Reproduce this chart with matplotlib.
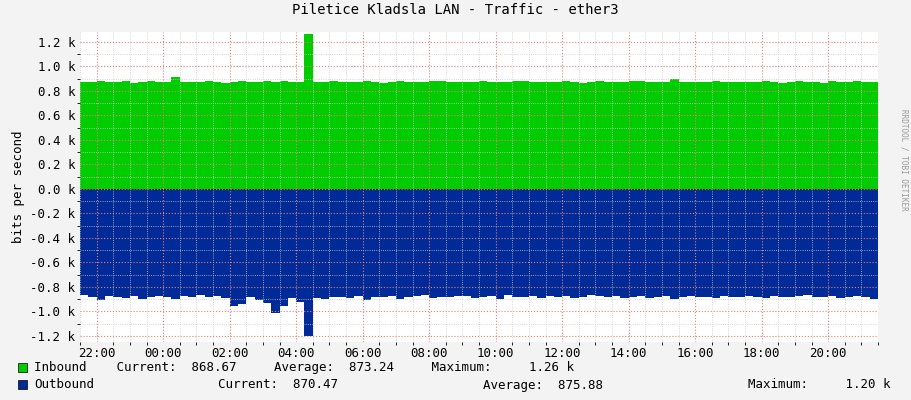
import matplotlib
matplotlib.use("Agg")
import matplotlib.pyplot as plt
import numpy as np
from matplotlib.ticker import MultipleLocator, FuncFormatter

plt.rcParams['font.family'] = ['DejaVu Sans Mono']

# time axis: hours since midnight of first day, 15 min samples
t_start = 21.5
inbound = [875, 870, 880, 868, 872, 878, 866, 874, 880, 871, 876, 910, 872, 868, 875, 879,
           870, 866, 874, 878, 871, 869, 877, 873, 880, 868, 872, 1260, 875, 870, 878, 874,
           869, 876, 880, 872, 867, 875, 879, 871, 874, 868, 877, 880, 872, 870, 876, 873,
           879, 868, 874, 871, 877, 880, 869, 873, 876, 870, 878, 872, 867, 875, 879, 871,
           874, 869, 877, 880, 872, 870, 876, 895, 873, 868, 874, 871, 877, 870, 869, 873,
           876, 870, 878, 872, 867, 875, 879, 871, 874, 866, 877, 872, 868, 880, 870, 868]
outbound = [870, 880, 905, 875, 885, 890, 872, 900, 880, 876, 885, 895, 872, 880, 870, 882,
            876, 890, 960, 940, 880, 905, 930, 1010, 960, 890, 920, 1200, 890, 900, 880, 885,
            890, 876, 905, 880, 884, 872, 895, 880, 876, 870, 890, 880, 884, 872, 878, 890,
            880, 876, 895, 870, 885, 880, 872, 890, 878, 884, 876, 892, 880, 870, 875, 885,
            878, 890, 880, 876, 892, 880, 872, 895, 880, 876, 885, 880, 890, 872, 880, 884,
            876, 880, 890, 872, 884, 880, 876, 870, 885, 880, 878, 890, 880, 876, 884, 895]

n = len(inbound)
t = t_start + np.arange(n + 1) * 0.25
inb = np.array(inbound + [inbound[-1]])
outb = -np.array(outbound + [outbound[-1]])

fig = plt.figure(figsize=(9.11, 4.0), dpi=100, facecolor='#f3f3f3')
ax = fig.add_axes([80 / 911, 58 / 400, 798 / 911, 310 / 400])
ax.set_facecolor('white')

ax.fill_between(t, 0, inb, step='post', color='#00cc00', lw=0)
ax.fill_between(t, 0, outb, step='post', color='#002a97', lw=0)

ax.set_xlim(t_start, t_start + n * 0.25)
ax.set_ylim(-1250, 1280)

ax.xaxis.set_major_locator(MultipleLocator(2))
ax.xaxis.set_minor_locator(MultipleLocator(0.5))
ax.yaxis.set_major_locator(MultipleLocator(200))
ax.yaxis.set_minor_locator(MultipleLocator(100))
ax.xaxis.set_major_formatter(FuncFormatter(lambda v, p: '%02d:00' % (int(round(v)) % 24)))
ax.yaxis.set_major_formatter(FuncFormatter(lambda v, p: '%.1f k' % (v / 1000)))
ax.grid(which='major', color='#e08080', ls=':', lw=0.8)
ax.grid(which='minor', color='#cccccc', ls=':', lw=0.6)
ax.set_axisbelow(False)
ax.tick_params(labelsize=9, length=0, colors='#000000')
for s in ax.spines.values():
    s.set_visible(False)
ax.axhline(0, color='black', lw=0.6)
ax.set_ylabel('bits per second', fontsize=9)

fig.text(0.5, 0.965, 'Piletice Kladsla LAN - Traffic - ether3', ha='center', fontsize=10)
fig.text(0.992, 0.6, 'RRDTOOL / TOBI OETIKER', rotation=270, fontsize=5.5, color='#999999',
         ha='center', va='center')

fig.patches.append(plt.Rectangle((18 / 911, 28 / 400), 9 / 911, 9 / 400, transform=fig.transFigure,
                                 fc='#00cc00', ec='black', lw=0.5))
fig.patches.append(plt.Rectangle((18 / 911, 11 / 400), 9 / 911, 9 / 400, transform=fig.transFigure,
                                 fc='#002a97', ec='black', lw=0.5))
fig.text(34 / 911, 32 / 400, 'Inbound    Current:  868.67     Average:  873.24     Maximum:     1.26 k',
         fontsize=9, va='center')
fig.text(34 / 911, 15 / 400, 'Outbound', fontsize=9, va='center')
fig.text(218 / 911, 15 / 400, 'Current:  870.47', fontsize=9, va='center')
fig.text(483 / 911, 15 / 400, 'Average:  875.88', fontsize=9, va='center')
fig.text(748 / 911, 15 / 400, 'Maximum:     1.20 k', fontsize=9, va='center')

fig.savefig('out.png', dpi=100, facecolor=fig.get_facecolor())
